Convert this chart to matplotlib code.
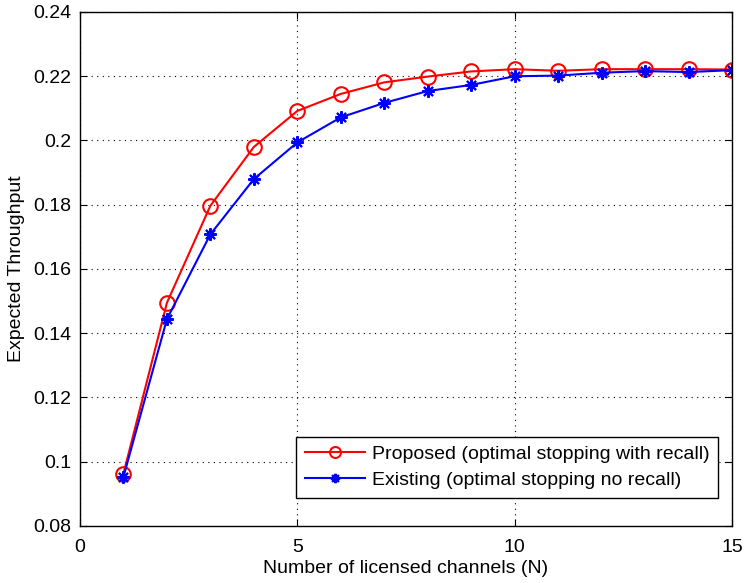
import matplotlib
matplotlib.use("Agg")
import matplotlib.pyplot as plt

N = [1, 2, 3, 4, 5, 6, 7, 8, 9, 10, 11, 12, 13, 14, 15]
proposed = [0.0963, 0.1495, 0.1797, 0.1980, 0.2092, 0.2145, 0.2181, 0.2199,
            0.2215, 0.2222, 0.2217, 0.2222, 0.2222, 0.2222, 0.2221]
existing = [0.0953, 0.1444, 0.1708, 0.1880, 0.1994, 0.2072, 0.2117, 0.2154,
            0.2173, 0.2200, 0.2202, 0.2211, 0.2216, 0.2213, 0.2219]
xticks = [0, 5, 10, 15]
yticks = [0.08, 0.1, 0.12, 0.14, 0.16, 0.18, 0.2, 0.22, 0.24]
ytick_labels = ["0.08", "0.1", "0.12", "0.14", "0.16", "0.18", "0.2", "0.22", "0.24"]

plt.rcParams['font.family'] = ['Liberation Sans', 'DejaVu Sans']

fig = plt.figure(figsize=(7.46, 5.83), dpi=100)
ax = fig.add_axes([80/746, 1 - 526/583, 652/746, 514/583])

ax.plot(N, proposed, color='red', lw=1.5, marker='o', markersize=10.5,
        markerfacecolor='none', markeredgewidth=1.5,
        label='Proposed (optimal stopping with recall)')
ax.plot(N, existing, color='blue', lw=1.5, marker=(8, 2, 0), markersize=9,
        markeredgewidth=1.5,
        label='Existing (optimal stopping no recall)')

ax.set_xlim(0, 15)
ax.set_ylim(0.08, 0.24)
ax.set_xticks(xticks)
ax.set_yticks(yticks)
ax.set_yticklabels(ytick_labels)
ax.grid(True, color='black', linestyle=(0, (1, 4)), linewidth=0.8)
ax.tick_params(direction='in', top=True, right=True, labelsize=14, length=5, pad=6)
ax.tick_params(axis='x', pad=9)
for s in ax.spines.values():
    s.set_linewidth(1.0)

ax.set_xlabel('Number of licensed channels (N)', fontsize=14, labelpad=3)
ax.set_ylabel('Expected Throughput', fontsize=14, labelpad=6)

leg = ax.legend(loc='lower right', bbox_to_anchor=((718 - 80) / 652, (526 - 498) / 514),
                borderaxespad=0, fontsize=14, fancybox=False, edgecolor='black',
                framealpha=1, handlelength=3.1, markerscale=0.75,
                borderpad=0.45, labelspacing=0.45, handletextpad=0.35)
leg.get_frame().set_linewidth(1.0)

fig.savefig('out.png', dpi=100)
